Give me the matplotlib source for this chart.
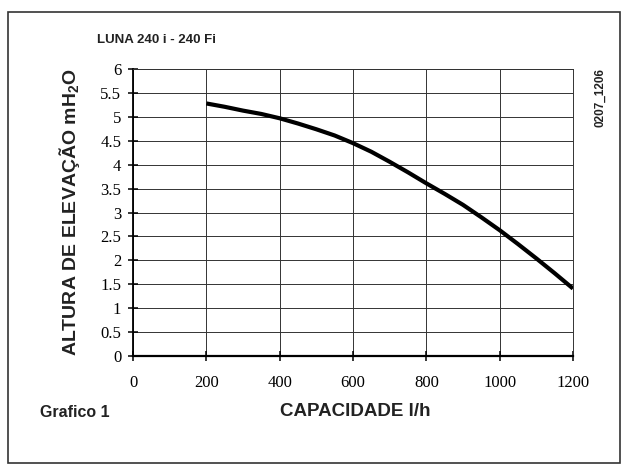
import numpy as np
import matplotlib.pyplot as plt
from matplotlib.patches import Rectangle

# curve
capacidade = [200, 250, 300, 350, 400, 450, 500, 550, 600, 650, 700, 750,
              800, 850, 900, 950, 1000, 1050, 1100, 1150, 1200]
altura = [5.28, 5.21, 5.13, 5.06, 4.97, 4.86, 4.74, 4.61, 4.45, 4.27, 4.06,
          3.84, 3.61, 3.39, 3.16, 2.90, 2.63, 2.34, 2.04, 1.73, 1.41]

xticks = [0, 200, 400, 600, 800, 1000, 1200]
yticks = [0, 0.5, 1, 1.5, 2, 2.5, 3, 3.5, 4, 4.5, 5, 5.5, 6]
ytick_labels = ['0', '0.5', '1', '1.5', '2', '2.5', '3', '3.5', '4', '4.5', '5', '5.5', '6']

fig = plt.figure(figsize=(6.21, 4.65), dpi=100)
fig.patches.append(Rectangle((0.013, 0.004), 0.985, 0.970, transform=fig.transFigure,
                             fill=False, edgecolor='#333333', linewidth=1.2))

ax = fig.add_axes([0.2142, 0.2344, 0.7085, 0.6172])
ax.plot(capacidade, altura, color='black', linewidth=3.0, solid_capstyle='butt')

ax.set_xlim(0, 1200)
ax.set_ylim(0, 6)
ax.set_xticks(xticks)
ax.set_yticks(yticks)
ax.set_yticklabels(ytick_labels)
ax.grid(True, color='#333333', linewidth=0.7)
ax.set_axisbelow(True)

for s in ['top', 'right']:
    ax.spines[s].set_linewidth(0.7)
    ax.spines[s].set_color('#333333')
ax.spines['left'].set_linewidth(1.3)
ax.spines['bottom'].set_linewidth(1.6)

ax.tick_params(direction='inout', length=7, width=1.1, colors='black',
               labelsize=12, pad=5)
ax.tick_params(axis='x', pad=10)
for lab in ax.get_xticklabels() + ax.get_yticklabels():
    lab.set_family('Liberation Serif')

bold = dict(family='Liberation Sans', weight='bold', color='#222222')
fig.text(0.156, 0.914, 'LUNA 240 i - 240 Fi', fontsize=9.5, va='center', **bold)
fig.text(0.112, 0.543, 'ALTURA DE ELEVAÇÃO mH$_\\mathregular{2}$O', rotation=90,
         fontsize=14, ha='center', va='center', **bold)
fig.text(0.572, 0.116, 'CAPACIDADE l/h', fontsize=13.5, ha='center', va='center', **bold)
fig.text(0.064, 0.112, 'Grafico 1', fontsize=11.5, va='center', **bold)
fig.text(0.966, 0.79, '0207_1206', rotation=90, fontsize=8.5, ha='center', va='center', **bold)

fig.savefig('out.png', dpi=100)
